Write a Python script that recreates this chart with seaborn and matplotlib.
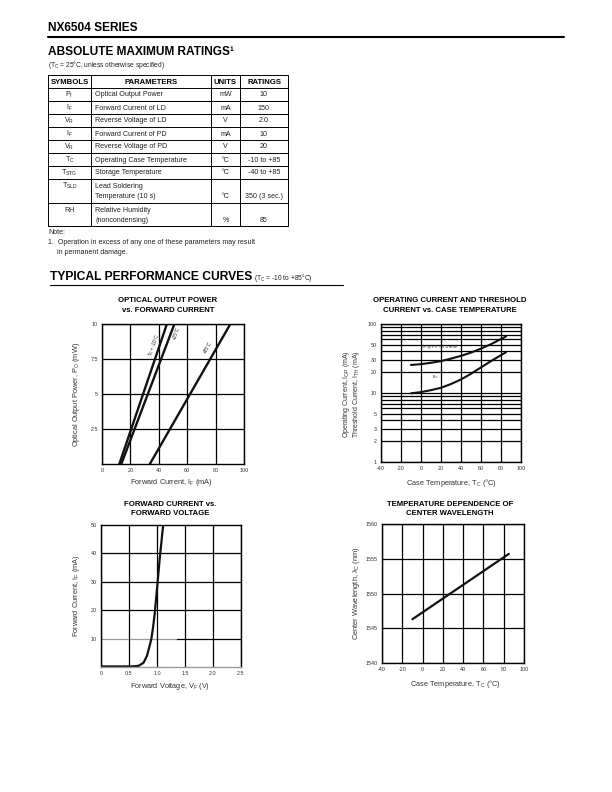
import numpy as np
import pandas as pd
import matplotlib
matplotlib.use("Agg")
import matplotlib.pyplot as plt
import seaborn as sns

# ---------------- data ----------------
tbl_symbols = [r"P$_\mathregular{f}$", r"I$_\mathregular{F}$", r"V$_\mathregular{R}$", r"I$_\mathregular{F}$",
               r"V$_\mathregular{R}$", r"T$_\mathregular{C}$", r"T$_\mathregular{STG}$", r"T$_\mathregular{SLD}$", "RH"]
tbl_params = ["Optical Output Power", "Forward Current of LD", "Reverse Voltage of LD",
              "Forward Current of PD", "Reverse Voltage of PD", "Operating Case Temperature",
              "Storage Temperature", "Lead Soldering\nTemperature (10 s)", "Relative Humidity\n(noncondensing)"]
tbl_units = ["mW", "mA", "V", "mA", "V", "°C", "°C", "°C", "%"]
tbl_ratings = ["10", "150", "2.0", "10", "20", "-10 to +85", "-40 to +85", "350 (3 sec.)", "85"]

# Optical output power vs forward current
opt_current_m10 = [12.2, 45.7]
opt_current_25 = [13.6, 51.0]
opt_current_85 = [33.7, 90.4]
opt_power = [0.0, 10.0]

# Operating / threshold current vs case temperature
case_temp = [-10, 0, 10, 20, 30, 40, 50, 60, 70, 85]
iop_ma = [25.5, 26.2, 27.4, 29.0, 31.5, 34.5, 38.5, 44.0, 51.0, 66.0]
ith_ma = [9.9, 10.3, 11.0, 11.9, 13.5, 15.7, 19.0, 23.5, 29.0, 39.0]

# Forward current vs forward voltage
fwd_voltage = [0.0, 0.55, 0.67, 0.76, 0.82, 0.86, 0.90, 0.93, 0.96, 1.00, 1.05, 1.11]
fwd_current = [0.2, 0.2, 0.4, 1.5, 3.9, 6.8, 10.0, 14.0, 19.0, 27.5, 38.5, 50.0]

# Center wavelength vs case temperature
wl_temp = [-10, 85]
wl_nm = [1546.3, 1555.7]

# ---------------- style ----------------
sns.set_theme(style="white")
plt.rcParams['font.family'] = ['Liberation Sans', 'DejaVu Sans']
plt.rcParams['mathtext.fontset'] = 'custom'
plt.rcParams['mathtext.rm'] = 'Liberation Sans'
plt.rcParams['mathtext.it'] = 'Liberation Sans'
plt.rcParams['mathtext.bf'] = 'Liberation Sans:bold'

W, H = 612, 792
fig = plt.figure(figsize=(W / 100, H / 100), dpi=100)
fig.patch.set_facecolor('white')

def fx(x): return x / W
def fy(y): return 1 - y / H

def txt(x, y, s, **kw):
    kw.setdefault('va', 'center')
    kw.setdefault('color', '#222222')
    return fig.text(fx(x), fy(y), s, **kw)

def hline(x0, x1, y, lw=0.8, color='black'):
    fig.add_artist(plt.Line2D([fx(x0), fx(x1)], [fy(y), fy(y)], lw=lw, color=color,
                              transform=fig.transFigure))

def vline(x, y0, y1, lw=0.8, color='black'):
    fig.add_artist(plt.Line2D([fx(x), fx(x)], [fy(y0), fy(y1)], lw=lw, color=color,
                              transform=fig.transFigure))

# ---------------- header ----------------
txt(48, 28, "NX6504 SERIES", fontsize=8.6, fontweight='bold', color='black')
hline(48, 564, 37, lw=1.5)
txt(48, 52, "ABSOLUTE MAXIMUM RATINGS¹", fontsize=8.6, fontweight='bold', color='black')
txt(48, 65, r"(T$_\mathregular{C}$ = 25°C, unless otherwise specified)", fontsize=4.8)

# ---------------- table ----------------
col_x = [48, 91, 211, 240, 288]
row_y = [75, 88, 101, 114, 127, 140, 153, 166, 179, 203, 226]
for y in row_y:
    hline(col_x[0], col_x[-1], y, lw=0.7)
for x in col_x:
    vline(x, row_y[0], row_y[-1], lw=0.7)
headers = ["SYMBOLS", "PARAMETERS", "UNITS", "RATINGS"]
for i, h in enumerate(headers):
    txt((col_x[i] + col_x[i + 1]) / 2, (row_y[0] + row_y[1]) / 2 + 0.5, h, fontsize=5.6,
        fontweight='bold', ha='center', color='black')
for r in range(len(tbl_symbols)):
    top, bot = row_y[r + 1], row_y[r + 2]
    two = "\n" in tbl_params[r]
    if two:
        y1, y2 = top + 7, top + 17
    else:
        y1 = y2 = (top + bot) / 2 + 0.5
    txt((col_x[0] + col_x[1]) / 2, y1, tbl_symbols[r], fontsize=5.1, ha='center')
    if two:
        a, b = tbl_params[r].split("\n")
        txt(col_x[1] + 4, y1, a, fontsize=5.1)
        txt(col_x[1] + 4, y2, b, fontsize=5.1)
    else:
        txt(col_x[1] + 4, y1, tbl_params[r], fontsize=5.1)
    txt((col_x[2] + col_x[3]) / 2, y2, tbl_units[r], fontsize=5.1, ha='center')
    txt((col_x[3] + col_x[4]) / 2, y2, tbl_ratings[r], fontsize=5.1, ha='center')

txt(48, 233, "Note:", fontsize=5.0)
txt(48, 243, "1.  Operation in excess of any one of these parameters may result", fontsize=5.0)
txt(57, 252, "in permanent damage.", fontsize=5.0)

# ---------------- section title ----------------
txt(50, 277, "TYPICAL PERFORMANCE CURVES", fontsize=8.7, fontweight='bold', color='black')
txt(254, 278.5, r"(T$_\mathregular{C}$ = -10 to +85°C)", fontsize=4.8)
hline(50, 343, 285, lw=0.8)

# ---------------- charts ----------------
def add_ax(l, t, r, b):
    return fig.add_axes([fx(l), fy(b), (r - l) / W, (b - t) / H])

def style_ax(ax):
    ax.set_facecolor('white')
    for s in ax.spines.values():
        s.set_color('black')
        s.set_linewidth(1.0)
        s.set_visible(True)
    ax.tick_params(axis='both', which='both', length=0, labelsize=3.9, labelcolor='#333333', pad=3)
    ax.grid(True, which='major', color='black', lw=0.9)
    ax.set_axisbelow(True)

def title(xc, y, lines):
    for i, s in enumerate(lines):
        txt(xc, y + 9.5 * i, s, fontsize=5.6, fontweight='bold', ha='center', color='black')

LBL = dict(fontsize=5.3, color='#333333')

# Chart 1: optical output power
ax1 = add_ax(102, 324, 244, 464)
for xs in [opt_current_m10, opt_current_25, opt_current_85]:
    sns.lineplot(x=xs, y=opt_power, ax=ax1, color='#111111', lw=1.7, sort=False)
ax1.set_xlim(0, 100)
ax1.set_ylim(0, 10)
ax1.set_xticks([0, 20, 40, 60, 80, 100])
ax1.set_xticklabels(["0", "20", "40", "60", "80", "100"])
ax1.set_yticks([2.5, 5, 7.5, 10])
ax1.set_yticklabels(["2.5", "5", "7.5", "10"])
style_ax(ax1)
ax1.text(36.8, 8.5, "Tc = -10°C", rotation=71, fontsize=3.3, ha='center', va='center', color='#222222')
ax1.text(52.2, 9.35, "+25°C", rotation=71, fontsize=3.3, ha='center', va='center', color='#222222')
ax1.text(74.2, 8.35, "+85°C", rotation=60, fontsize=3.3, ha='center', va='center', color='#222222')
title(168, 301, ["OPTICAL OUTPUT POWER", "vs. FORWARD CURRENT"])
txt(171, 482, r"Forward Current, I$_\mathregular{F}$ (mA)", ha='center', **LBL)
txt(77, 394, r"Optical Output Power, P$_\mathregular{O}$ (mW)", ha='center', rotation=90, **LBL)

# Chart 2: operating / threshold current
ax2 = add_ax(381, 324, 521, 462)
sns.lineplot(x=case_temp, y=iop_ma, ax=ax2, color='#111111', lw=1.5)
sns.lineplot(x=case_temp, y=ith_ma, ax=ax2, color='#111111', lw=1.5)
ax2.set_yscale('log')
ax2.set_xlim(-40, 100)
ax2.set_ylim(1, 100)
ax2.set_xticks([-40, -20, 0, 20, 40, 60, 80, 100])
ax2.set_xticklabels(["-40", "-20", "0", "20", "40", "60", "80", "100"])
yt = [1, 2, 3, 4, 5, 6, 7, 8, 9, 10, 20, 30, 40, 50, 60, 70, 80, 90, 100]
ylab_show = {1, 2, 3, 5, 10, 20, 30, 50, 100}
ax2.set_yticks(yt)
ax2.set_yticklabels([str(v) if v in ylab_show else "" for v in yt])
ax2.yaxis.set_minor_locator(matplotlib.ticker.NullLocator())
style_ax(ax2)
ax2.text(-0.5, 46, r"I$_\mathregular{OP}$ @ P$_\mathregular{O}$ = 5.0 mW", fontsize=3.0, ha='left', va='center',
         color='#222222')
ax2.text(12, 17, "Ith", fontsize=3.0, ha='left', va='center', color='#222222')
title(450, 301, ["OPERATING CURRENT AND THRESHOLD", "CURRENT vs. CASE TEMPERATURE"])
txt(451, 483, r"Case Temperature, T$_\mathregular{C}$ (°C)", ha='center', **LBL)
txt(346, 394, r"Operating Current, I$_\mathregular{OP}$ (mA)", ha='center', rotation=90,
    fontsize=5.0, color='#333333')
txt(356.5, 394, r"Threshold Current, I$_\mathregular{TH}$ (mA)", ha='center', rotation=90,
    fontsize=5.0, color='#333333')

# Chart 3: forward current vs forward voltage
ax3 = add_ax(101, 525, 241, 667)
sns.lineplot(x=fwd_voltage, y=fwd_current, ax=ax3, color='#111111', lw=1.6)
ax3.set_xlim(0, 2.5)
ax3.set_ylim(0, 50)
ax3.set_xticks([0, 0.5, 1.0, 1.5, 2.0, 2.5])
ax3.set_xticklabels(["0", "0.5", "1.0", "1.5", "2.0", "2.5"])
ax3.set_yticks([10, 20, 30, 40, 50])
ax3.set_yticklabels(["10", "20", "30", "40", "50"])
style_ax(ax3)
ax3.yaxis.grid(False)
for v in [20, 30, 40]:
    ax3.axhline(v, color='black', lw=0.9, zorder=0.5)
ax3.axhline(10, xmin=0, xmax=1.35 / 2.5, color='#9a9a9a', lw=0.9, zorder=0.5)
ax3.axhline(10, xmin=1.35 / 2.5, xmax=1, color='black', lw=0.9, zorder=0.5)
ax3.spines['bottom'].set_color('#9a9a9a')
title(170, 504, ["FORWARD CURRENT vs.", "FORWARD VOLTAGE"])
txt(170, 686, r"Forward Voltage, V$_\mathregular{F}$ (V)", ha='center', **LBL)
txt(76, 596, r"Forward Current, I$_\mathregular{F}$ (mA)", ha='center', rotation=90, **LBL)

# Chart 4: center wavelength
ax4 = add_ax(382, 524, 524, 663)
sns.lineplot(x=wl_temp, y=wl_nm, ax=ax4, color='#111111', lw=1.6)
ax4.set_xlim(-40, 100)
ax4.set_ylim(1540, 1560)
ax4.set_xticks([-40, -20, 0, 20, 40, 60, 80, 100])
ax4.set_xticklabels(["-40", "-20", "0", "20", "40", "60", "80", "100"])
ax4.set_yticks([1540, 1545, 1550, 1555, 1560])
ax4.set_yticklabels(["1540", "1545", "1550", "1555", "1560"])
style_ax(ax4)
title(450, 504, ["TEMPERATURE DEPENDENCE OF", "CENTER WAVELENGTH"])
txt(455, 684, r"Case Temperature, T$_\mathregular{C}$ (°C)", ha='center', **LBL)
txt(357, 593, r"Center Wavelength, λ$_\mathregular{C}$ (nm)", ha='center', rotation=90, **LBL)

fig.savefig("out.png", dpi=100, facecolor='white')
